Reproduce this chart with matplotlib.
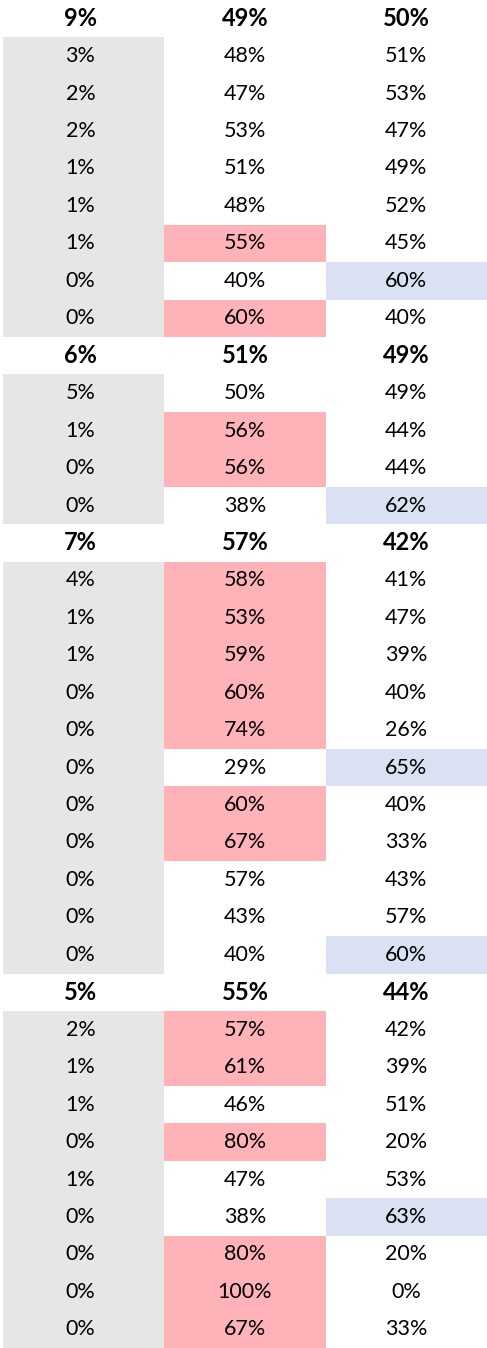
import matplotlib.pyplot as plt
from matplotlib.patches import Rectangle

plt.rcParams['font.family'] = ['Lato', 'DejaVu Sans']

# each group: header totals, then rows of (col1, col2, col3)
headers = [(9, 49, 50), (6, 51, 49), (7, 57, 42), (5, 55, 44)]
groups = [
    [(3, 48, 51), (2, 47, 53), (2, 53, 47), (1, 51, 49), (1, 48, 52),
     (1, 55, 45), (0, 40, 60), (0, 60, 40)],
    [(5, 50, 49), (1, 56, 44), (0, 56, 44), (0, 38, 62)],
    [(4, 58, 41), (1, 53, 47), (1, 59, 39), (0, 60, 40), (0, 74, 26),
     (0, 29, 65), (0, 60, 40), (0, 67, 33), (0, 57, 43), (0, 43, 57),
     (0, 40, 60)],
    [(2, 57, 42), (1, 61, 39), (1, 46, 51), (0, 80, 20), (1, 47, 53),
     (0, 38, 63), (0, 80, 20), (0, 100, 0), (0, 67, 33)],
]
# highlight flags per data row: 'r' = middle red, 'b' = right blue, '' = none
flags = [
    ['', '', '', '', '', 'r', 'b', 'r'],
    ['', 'r', 'r', 'b'],
    ['r', 'r', 'r', 'r', 'r', 'b', 'r', 'r', '', '', 'b'],
    ['r', 'r', '', 'r', '', 'b', 'r', 'r', 'r'],
]

grey = '#E6E6E6'
red = '#FFB3B9'
blue = '#DAE1F3'

rows = []
for h, g, f in zip(headers, groups, flags):
    rows.append(('h', h, ''))
    for r, fl in zip(g, f):
        rows.append(('d', r, fl))
n = len(rows)

fig = plt.figure(figsize=(4.87, 13.48), dpi=100)
ax = fig.add_axes([3 / 487, 0, 1 - 3 / 487, 1])
ax.set_xlim(0, 3)
ax.set_ylim(n, 0)
ax.axis('off')

for i, (kind, vals, fl) in enumerate(rows):
    if kind == 'd':
        ax.add_patch(Rectangle((0, i), 1, 1, color=grey, lw=0))
        if fl == 'r':
            ax.add_patch(Rectangle((1, i), 1, 1, color=red, lw=0))
        elif fl == 'b':
            ax.add_patch(Rectangle((2, i), 1, 1, color=blue, lw=0))
    for j, v in enumerate(vals):
        ax.text(j + 0.5 - (0.02 if j == 0 else 0), i + 0.5, f'{v}%',
                ha='center', va='center',
                fontsize=17 if kind == 'h' else 15.5,
                fontweight='bold' if kind == 'h' else 'normal',
                color='black')

fig.savefig('out.png', dpi=100)
